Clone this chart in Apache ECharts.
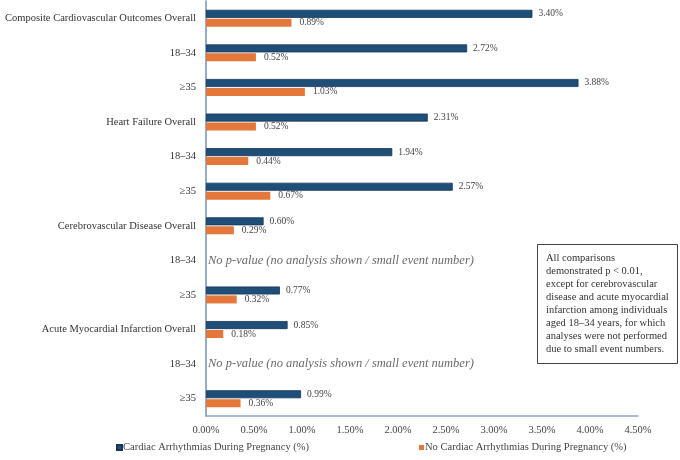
<!DOCTYPE html>
<html>
<head>
<meta charset="utf-8">
<script src="https://cdn.jsdelivr.net/npm/echarts@6/dist/echarts.min.js"></script>
<style>
html, body { margin: 0; padding: 0; background: #fff; }
#main { width: 680px; height: 460px; }
</style>
</head>
<body>
<div id="main"></div>
<script>
var categories = [
	'Composite Cardiovascular Outcomes Overall', '18–34', '≥35',
	'Heart Failure Overall', '18–34', '≥35',
	'Cerebrovascular Disease Overall', '18–34', '≥35',
	'Acute Myocardial Infarction Overall', '18–34', '≥35'
];
// 心律失常组 / 非心律失常组 (%)
var withArrhythmia = [3.40, 2.72, 3.88, 2.31, 1.94, 2.57, 0.60, null, 0.77, 0.85, null, 0.99];
var noArrhythmia = [0.89, 0.52, 1.03, 0.52, 0.44, 0.67, 0.29, null, 0.32, 0.18, null, 0.36];
var noAnalysisRows = [7, 10]; // 18–34 rows without analysis
var noAnalysisText = 'No p-value (no analysis shown / small event number)';
var xTicks = [0, 0.5, 1, 1.5, 2, 2.5, 3, 3.5, 4, 4.5];
var seriesNames = ['Cardiac Arrhythmias During Pregnancy (%)', 'No Cardiac Arrhythmias During Pregnancy (%)'];
var noteText = 'All comparisons\ndemonstrated p < 0.01,\nexcept for cerebrovascular\ndisease and acute myocardial\ninfarction among individuals\naged 18–34 years, for which\nanalyses were not performed\ndue to small event numbers.';

var serif = '"Liberation Serif", "DejaVu Serif", serif';

var chart = echarts.init(document.getElementById('main'));

var noteData = noAnalysisRows.map(function (r) {
	return [0, r];
});

function pct(p) {
	return p.value == null ? '' : p.value.toFixed(2) + '%';
}

var option = {
	animation: false,
	textStyle: { fontFamily: serif },
	title: {
		text: noteText,
		left: 537,
		top: 244,
		padding: [8, 9, 8, 9],
		borderWidth: 1,
		borderColor: '#444',
		textStyle: {
			fontFamily: serif,
			fontSize: 10.5,
			fontWeight: 'normal',
			color: '#333',
			lineHeight: 13
		}
	},
	legend: {
		bottom: 2,
		left: 111,
		itemWidth: 5,
		itemHeight: 5,
		itemGap: 110,
		icon: 'rect',
		textStyle: { fontFamily: serif, fontSize: 10.5, color: '#444', padding: [0, 0, 0, -4] },
		data: seriesNames
	},
	grid: {
		left: 206,
		right: 42,
		top: 1,
		bottom: 44
	},
	xAxis: {
		type: 'value',
		min: 0,
		max: 4.5,
		interval: 0.5,
		axisLine: { show: true, lineStyle: { color: '#8fa7c4', width: 1.5 } },
		axisTick: { show: false },
		splitLine: { show: false },
		axisLabel: {
			margin: 9,
			fontFamily: serif,
			fontSize: 10.5,
			color: '#444',
			formatter: function (v) {
				return xTicks.indexOf(v) >= 0 ? v.toFixed(2) + '%' : '';
			}
		}
	},
	yAxis: {
		type: 'category',
		inverse: true,
		data: categories,
		axisLine: { show: true, lineStyle: { color: '#6f90b8', width: 1.5 } },
		axisTick: { show: false },
		axisLabel: {
			margin: 10,
			fontFamily: serif,
			fontSize: 10.5,
			color: '#333'
		}
	},
	series: [
		{
			name: seriesNames[0],
			type: 'bar',
			data: withArrhythmia,
			barWidth: 8,
			barGap: '12%',
			itemStyle: { color: '#1f4e79', borderColor: '#143657', borderWidth: 0.8 },
			label: {
				show: true,
				position: 'right',
				distance: 6,
				fontFamily: serif,
				fontSize: 9.5,
				color: '#444',
				formatter: pct
			}
		},
		{
			name: seriesNames[1],
			type: 'bar',
			data: noArrhythmia,
			barWidth: 8,
			itemStyle: { color: '#e4773a' },
			label: {
				show: true,
				position: 'right',
				distance: 8,
				fontFamily: serif,
				fontSize: 9.5,
				color: '#444',
				formatter: pct
			}
		},
		{
			type: 'scatter',
			data: noteData,
			symbolSize: 0,
			silent: true,
			label: {
				show: true,
				position: 'right',
				distance: 2,
				formatter: noAnalysisText,
				fontFamily: serif,
				fontStyle: 'italic',
				fontSize: 12.5,
				color: '#444'
			}
		}
	]
};

chart.setOption(option);
</script>
</body>
</html>
